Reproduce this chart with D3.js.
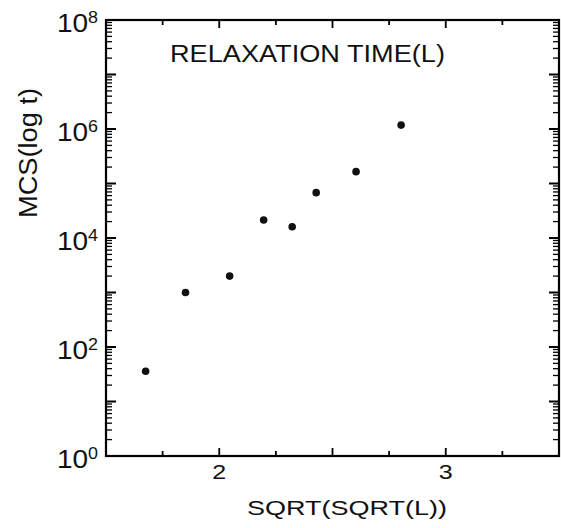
<!DOCTYPE html>
<html>
<head>
<meta charset="utf-8">
<script src="https://cdn.jsdelivr.net/npm/d3@7"></script>
<style>
  body { margin: 0; background: #fff; }
  svg { display: block; font-family: Arial, "Liberation Sans", Helvetica, sans-serif; }
</style>
</head>
<body>
<svg id="chart" width="561" height="528"></svg>
<script>
// Data: x = SQRT(SQRT(L)), y = MCS
const sqrtSqrtL = [1.675, 1.851, 2.046, 2.196, 2.322, 2.428, 2.604, 2.803];
const mcs = [36, 1000, 2000, 21400, 16100, 68000, 165000, 1180000];
const xTickLabels = [2, 3];
const yDecades = [0, 2, 4, 6, 8];

const svg = d3.select('#chart');
const plotLeft = 106, plotRight = 559, plotTop = 20, plotBottom = 456;

const x = d3.scaleLinear().domain([1.5, 3.5]).range([plotLeft, plotRight]);
const y = d3.scaleLog().domain([1, 1e8]).range([plotBottom, plotTop]);

// x ticks every 0.25, longer on halves
const xTicks = d3.range(7).map(i => ({ v: 1.75 + i * 0.25, len: i % 2 === 1 ? 8 : 5 }));

// y ticks: decades long, 2..9 short
const yTicks = [];
for (let e = 0; e <= 8; e++) {
  yTicks.push({ v: Math.pow(10, e), len: 10 });
  if (e < 8) for (let k = 2; k <= 9; k++) yTicks.push({ v: k * Math.pow(10, e), len: 6 });
}

const tickG = svg.append('g').attr('stroke', '#000').attr('stroke-width', 1.8);

// bottom & top (inward)
[[plotBottom, -1], [plotTop, 1]].forEach(([yy, dir]) => {
  tickG.selectAll(null).data(xTicks).enter().append('line')
    .attr('x1', d => x(d.v)).attr('x2', d => x(d.v))
    .attr('y1', yy).attr('y2', d => yy + dir * d.len);
});

// left & right (inward)
[[plotLeft, 1], [plotRight, -1]].forEach(([xx, dir]) => {
  tickG.selectAll(null).data(yTicks).enter().append('line')
    .attr('y1', d => y(d.v)).attr('y2', d => y(d.v))
    .attr('x1', xx).attr('x2', d => xx + dir * d.len)
    .attr('stroke-width', d => d.len > 6 ? 2 : 1.3);
});

// frame
svg.append('rect')
  .attr('x', plotLeft).attr('y', plotTop)
  .attr('width', plotRight - plotLeft).attr('height', plotBottom - plotTop)
  .attr('fill', 'none').attr('stroke', '#000').attr('stroke-width', 2.2);

// x tick labels
xTickLabels.forEach(v => {
  svg.append('text')
    .attr('transform', `translate(${x(v)},${plotBottom + 23}) scale(1.25,1)`)
    .attr('text-anchor', 'middle')
    .attr('font-size', 20).attr('fill', '#111')
    .text(v);
});

// y tick labels 10^n
yDecades.forEach(e => {
  const t = svg.append('text')
    .attr('transform', `translate(${plotLeft - 8},${y(Math.pow(10, e)) + 12}) scale(1.12,1)`)
    .attr('text-anchor', 'end')
    .attr('font-size', 25).attr('fill', '#111');
  t.append('tspan').text('10');
  t.append('tspan').attr('font-size', 16).attr('dy', -9).text(e);
});

// points
svg.selectAll('circle.pt')
  .data(sqrtSqrtL.map((v, i) => [v, mcs[i]]))
  .enter().append('circle')
  .attr('class', 'pt')
  .attr('cx', d => x(d[0]))
  .attr('cy', d => y(d[1]))
  .attr('r', 3.8)
  .attr('fill', '#111');

// title
svg.append('text')
  .attr('x', 170).attr('y', 62)
  .attr('font-size', 23).attr('fill', '#111')
  .attr('textLength', 275).attr('lengthAdjust', 'spacingAndGlyphs')
  .text('RELAXATION TIME(L)');

// x axis label
svg.append('text')
  .attr('x', 247).attr('y', 515)
  .attr('font-size', 21).attr('fill', '#111')
  .attr('textLength', 200).attr('lengthAdjust', 'spacingAndGlyphs')
  .text('SQRT(SQRT(L))');

// y axis label
svg.append('text')
  .attr('transform', 'translate(37,218) rotate(-90) scale(1,1.25)')
  .attr('font-size', 21).attr('fill', '#111')
  .attr('textLength', 130).attr('lengthAdjust', 'spacingAndGlyphs')
  .text('MCS(log t)');
</script>
</body>
</html>
